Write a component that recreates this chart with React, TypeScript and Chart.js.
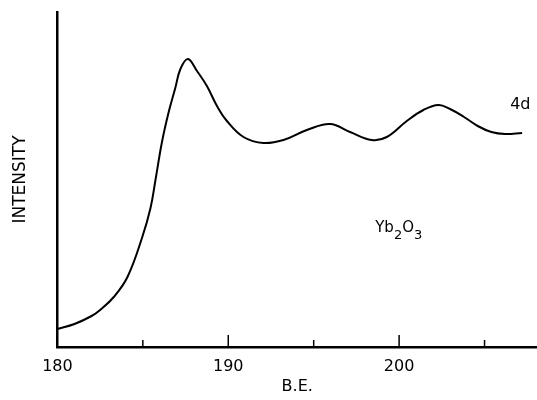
import React, { useEffect, useRef } from "react";
import { Chart, registerables } from "chart.js";

Chart.register(...registerables);

const bindingEnergy = [180, 181, 182, 182.5, 183.3, 184.1, 184.95, 185.45, 185.75, 186.12, 186.5, 186.9, 187.2, 187.64, 188.17, 188.75, 189.34, 189.92, 190.89, 192.06, 193.23, 194.6, 195.96, 197.13, 198.4, 199.28, 200.45, 201.42, 202.3, 202.98, 203.8, 204.6, 205.4, 206.2, 207.2];
const intensity = [18, 23, 31, 37, 50, 70, 109, 139, 168, 205, 234, 259, 278, 288, 276, 261, 241, 226, 210, 204, 207, 217, 223, 215, 207, 210, 226, 237, 242, 238, 230, 221, 215, 213, 214];
const majorTicks = [180, 190, 200];
const minorTicks = [185, 195, 205];

const FONT = "'DejaVu Sans', sans-serif";

const overlay = {
  id: "overlay",
  afterDraw(chart: any) {
    const ctx = chart.ctx;
    const xs = chart.scales.x;
    const ys = chart.scales.y;
    const bottom = chart.chartArea.bottom;
    ctx.save();
    ctx.strokeStyle = "#000";
    ctx.lineWidth = 1.5;
    [...majorTicks, ...minorTicks].forEach((v) => {
      if (v === 180) return;
      const px = xs.getPixelForValue(v);
      const len = majorTicks.includes(v) ? 12 : 7;
      ctx.beginPath();
      ctx.moveTo(px, bottom);
      ctx.lineTo(px, bottom - len);
      ctx.stroke();
    });
    ctx.fillStyle = "#000";
    ctx.textBaseline = "middle";
    ctx.textAlign = "left";
    ctx.font = `16px ${FONT}`;
    ctx.fillText("4d", xs.getPixelForValue(206.5), ys.getPixelForValue(242));
    // Yb2O3
    let x = xs.getPixelForValue(198.6);
    const y = ys.getPixelForValue(119);
    const parts: [string, boolean][] = [["Yb", false], ["2", true], ["O", false], ["3", true]];
    parts.forEach(([t, sub]) => {
      ctx.font = sub ? `13px ${FONT}` : `15px ${FONT}`;
      ctx.fillText(t, x, sub ? y + 8 : y);
      x += ctx.measureText(t).width;
    });
    ctx.restore();
  },
};

export default function App() {
  const ref = useRef<HTMLCanvasElement>(null);
  useEffect(() => {
    const chart = new Chart(ref.current!, {
      type: "line",
      data: {
        datasets: [
          {
            data: bindingEnergy.map((b, i) => ({ x: b, y: intensity[i] })),
            borderColor: "#000",
            borderWidth: 2,
            pointRadius: 0,
            tension: 0.4,
            fill: false,
          },
        ],
      },
      options: {
        animation: false,
        responsive: false,
        maintainAspectRatio: false,
        layout: { padding: { top: 12, right: 0, bottom: 5, left: 10 } },
        plugins: { legend: { display: false }, tooltip: { enabled: false } },
        scales: {
          x: {
            type: "linear",
            min: 180,
            max: 208.07,
            afterBuildTicks: (scale: any) => {
              scale.ticks = [...majorTicks, ...minorTicks].sort((a, b) => a - b).map((v) => ({ value: v }));
            },
            ticks: {
              color: "#000",
              font: { family: FONT, size: 16, lineHeight: 1 },
              padding: 12,
              maxRotation: 0,
              autoSkip: false,
              callback: (v: any) => (majorTicks.includes(Number(v)) ? String(v) : ""),
            },
            grid: { display: false, drawTicks: false },
            border: { display: true, color: "#000", width: 2.5 },
            title: {
              display: true,
              text: "B.E.",
              color: "#000",
              font: { family: FONT, size: 16, lineHeight: 1 },
              padding: { top: -8, bottom: 0 },
            },
          },
          y: {
            min: 0,
            max: 335,
            ticks: { display: false },
            grid: { display: false, drawTicks: false },
            border: { display: true, color: "#000", width: 2.5 },
            title: {
              display: true,
              text: "INTENSITY",
              color: "#000",
              font: { family: FONT, size: 17, lineHeight: 1.2 },
              padding: { top: 0, bottom: 27 },
            },
          },
        },
      },
      plugins: [overlay],
    });
    return () => chart.destroy();
  }, []);
  return (
    <div style={{ position: "absolute", left: 0, top: 0, width: 537, height: 400, background: "#fff" }}>
      <canvas ref={ref} width={537} height={400} />
    </div>
  );
}
